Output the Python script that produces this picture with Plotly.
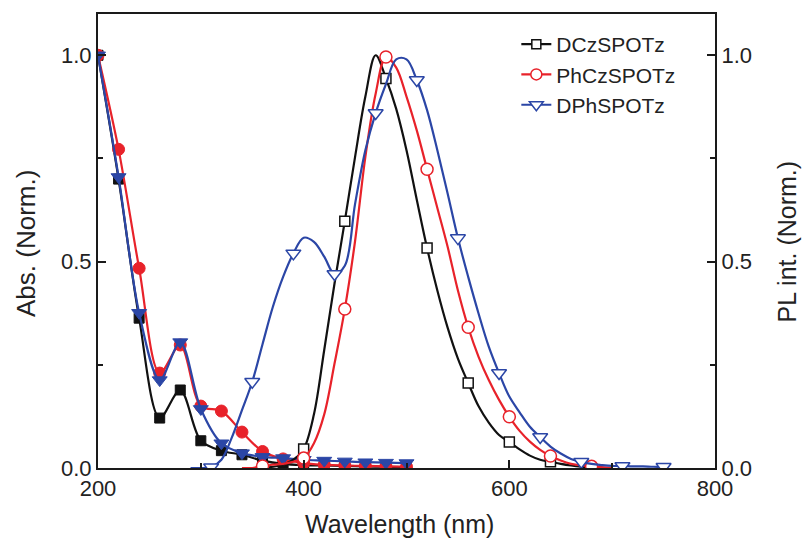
import plotly.graph_objects as go

# ---- absorption spectra (normalised), sampled every 20 nm ----
wl_abs = [200, 220, 240, 260, 280, 300, 320, 340, 360, 380, 400, 420, 440, 460, 480, 500]
abs_dcz = [1.00, 0.700, 0.363, 0.121, 0.189, 0.066, 0.042, 0.032, 0.018, 0.010, 0.007, 0.006, 0.005, 0.004, 0.003, 0.002]
abs_phcz = [1.00, 0.772, 0.484, 0.230, 0.298, 0.150, 0.138, 0.087, 0.040, 0.022, 0.012, 0.008, 0.006, 0.005, 0.004, 0.003]
abs_dph = [1.00, 0.705, 0.376, 0.213, 0.305, 0.143, 0.060, 0.036, 0.027, 0.024, 0.020, 0.018, 0.016, 0.014, 0.013, 0.012]

# ---- photoluminescence spectra (normalised), sampled every 10 nm ----
wl_pl_dcz = list(range(340, 710, 10))
pl_dcz = [0.0, 0.0, 0.0, 0.003, 0.008, 0.02, 0.046, 0.13, 0.286, 0.447, 0.598, 0.754, 0.90, 1.0,
          0.944, 0.87, 0.77, 0.65, 0.533, 0.43, 0.34, 0.265, 0.206, 0.15, 0.11, 0.08, 0.063,
          0.045, 0.03, 0.02, 0.015, 0.01, 0.006, 0.003, 0.001, 0.0, 0.0]

wl_pl_phcz = list(range(340, 710, 10))
pl_phcz = [0.0, 0.0, 0.005, 0.008, 0.01, 0.015, 0.024, 0.06, 0.13, 0.253, 0.385, 0.55, 0.754, 0.907,
           0.996, 0.97, 0.90, 0.818, 0.724, 0.63, 0.536, 0.43, 0.341, 0.27, 0.213, 0.165, 0.124,
           0.09, 0.064, 0.044, 0.029, 0.018, 0.01, 0.006, 0.004, 0.002, 0.0]

wl_pl_dph = list(range(290, 760, 10))
pl_dph = [0.0, 0.0, 0.002, 0.02, 0.073, 0.14, 0.209, 0.30, 0.39, 0.463, 0.52, 0.558, 0.548, 0.512,
          0.47, 0.49, 0.64, 0.77, 0.86, 0.93, 0.99, 0.99, 0.94, 0.867, 0.77, 0.665, 0.557, 0.463,
          0.375, 0.294, 0.23, 0.173, 0.135, 0.10, 0.075, 0.052, 0.035, 0.022, 0.015, 0.01, 0.007,
          0.005, 0.005, 0.004, 0.004, 0.003, 0.003]

names = ["DCzSPOTz", "PhCzSPOTz", "DPhSPOTz"]
colors = ["#111111", "#e8222a", "#2b46a6"]
fill_symbols = ["square", "circle", "triangle-down"]
open_symbols = ["square", "circle", "triangle-down"]
marker_sizes = [10, 12, 13]

# PL markers: every 4th sample (40 nm apart)
pl_marker_slices = [slice(6, 31, 4), slice(2, 35, 4), slice(2, 47, 4)]

FONT = "Liberation Sans, Arial, sans-serif"

fig = go.Figure()

abs_sets = [abs_dcz, abs_phcz, abs_dph]
pl_sets = [(wl_pl_dcz, pl_dcz), (wl_pl_phcz, pl_phcz), (wl_pl_dph, pl_dph)]

# absorption: filled markers on the left axis
for name, col, sym, ms, ys in zip(names, colors, fill_symbols, marker_sizes, abs_sets):
    fig.add_trace(go.Scatter(
        x=wl_abs, y=ys, mode="lines+markers", showlegend=False,
        line=dict(color=col, width=2.2, shape="spline", smoothing=0.9),
        marker=dict(symbol=sym, size=ms, color=col, line=dict(color=col, width=1)),
        yaxis="y",
    ))

# PL: smooth line plus open markers on the right axis
for name, col, sym, ms, (wx, wy), sl in zip(names, colors, open_symbols, marker_sizes, pl_sets, pl_marker_slices):
    fig.add_trace(go.Scatter(
        x=wx, y=wy, mode="lines", showlegend=False,
        line=dict(color=col, width=2.2, shape="spline", smoothing=1.0),
        yaxis="y2",
    ))
    fig.add_trace(go.Scatter(
        x=wx[sl], y=wy[sl], mode="markers", showlegend=False,
        marker=dict(symbol=sym, size=ms, color="white", line=dict(color=col, width=1.5)),
        yaxis="y2",
    ))

# legend entries (line with open marker)
for name, col, sym, ms in zip(names, colors, open_symbols, marker_sizes):
    fig.add_trace(go.Scatter(
        x=[None], y=[None], mode="lines+markers", name=name,
        line=dict(color=col, width=2.2),
        marker=dict(symbol=sym, size=ms - 1, color="white", line=dict(color=col, width=1.5)),
        yaxis="y2",
    ))

tickfont = dict(family=FONT, size=22, color="#222222")
axis_common = dict(
    showline=True, linewidth=2, linecolor="#1a1a1a",
    ticks="inside", ticklen=8, tickwidth=2, tickcolor="#1a1a1a",
    showgrid=False, zeroline=False, tickfont=tickfont,
)

fig.update_layout(
    width=802, height=539,
    margin=dict(l=98, r=87, t=14, b=71),
    paper_bgcolor="white", plot_bgcolor="white",
    xaxis=dict(range=[200, 800], tick0=200, dtick=200, mirror=True,
               minor=dict(tick0=200, dtick=100, ticks="inside", ticklen=5, tickwidth=2, tickcolor="#1a1a1a"),
               **axis_common),
    yaxis=dict(range=[0, 1.1], tick0=0, dtick=0.5, tickformat=".1f",
               minor=dict(tick0=0, dtick=0.25, ticks="inside", ticklen=5, tickwidth=2, tickcolor="#1a1a1a"),
               **axis_common),
    yaxis2=dict(range=[0, 1.1], tick0=0, dtick=0.5, tickformat=".1f", overlaying="y", side="right",
                minor=dict(tick0=0, dtick=0.25, ticks="inside", ticklen=5, tickwidth=2, tickcolor="#1a1a1a"),
                **axis_common),
    legend=dict(x=0.678, y=0.978, xanchor="left", yanchor="top",
                font=dict(family=FONT, size=21, color="#222222"),
                bgcolor="rgba(0,0,0,0)", tracegroupgap=0),
    showlegend=True,
    annotations=[
        dict(text="Wavelength (nm)", xref="paper", yref="paper", x=0.489, y=-0.123,
             xanchor="center", yanchor="middle", showarrow=False,
             font=dict(family=FONT, size=25, color="#222222")),
        dict(text="Abs. (Norm.)", xref="paper", yref="paper", x=-0.1167, y=0.4956,
             xanchor="center", yanchor="middle", showarrow=False, textangle=-90,
             font=dict(family=FONT, size=26, color="#222222")),
        dict(text="PL int. (Norm.)", xref="paper", yref="paper", x=1.116, y=0.498,
             xanchor="center", yanchor="middle", showarrow=False, textangle=-90,
             font=dict(family=FONT, size=25, color="#222222")),
    ],
)

fig.write_html("out.html")
